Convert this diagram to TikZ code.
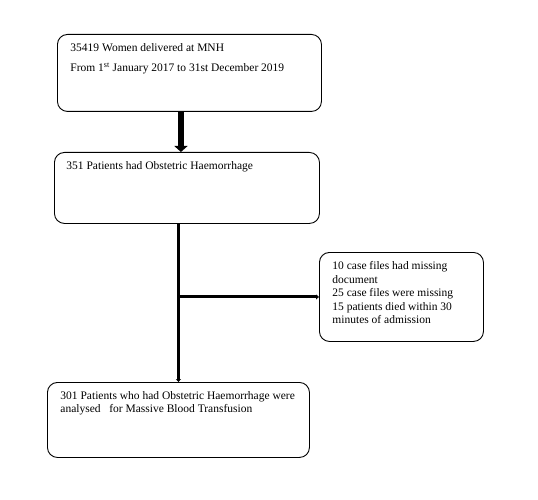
\documentclass[tikz,border=0pt]{standalone}
\usepackage{fontspec}
\setmainfont{Liberation Serif}
\usetikzlibrary{arrows.meta}
\newcommand{\boxtext}[3]{\parbox[c][#2][t]{#1}{\raggedright #3}}

\begin{document}
\begin{tikzpicture}[x=1pt,y=-1pt,
  flowbox/.style={draw=black,line width=0.9pt,rounded corners=10pt,anchor=north west,
    inner xsep=13pt,inner ysep=9pt,font=\fontsize{11.5}{13.5}\selectfont},
  bigarrow/.style={-{Triangle[length=6pt,width=13pt]},line width=6pt},
  flowline/.style={line width=3pt}]
\useasboundingbox (0,0) rectangle (538,500);
% \draw[help lines,step=50] (0,0) grid (538,500);
\node (total) [flowbox] at (57,34)
  {\boxtext{238pt}{59pt}{35419 Women delivered at MNH\\[6.5pt]
   From 1\textsuperscript{st} January 2017 to 31st December 2019}};
\node (oh) [flowbox,inner xsep=12pt] at (54,152)
  {\boxtext{241pt}{53pt}{351 Patients had Obstetric Haemorrhage}};
\node (excl) [flowbox] at (319,252)
  {\boxtext{138pt}{71pt}{10 case files had missing\\ document\\
   25 case files were missing\\
   15 patients died within 30\\ minutes of admission}};
\node (mbt) [flowbox] at (47,382)
  {\boxtext{236pt}{57pt}{301 Patients who had Obstetric Haemorrhage were\\
   analysed\ \ \ for Massive Blood Transfusion}};
%
\draw[bigarrow] ([xshift=-8.5pt]total.south) -- ([xshift=-8.5pt]total.south |- oh.north);
\coordinate (split) at (mbt.north |- excl.west);
\draw[flowline,-{Triangle[length=3pt,width=5pt]}] (oh.south -| mbt.north) -- (mbt.north);
\draw[flowline,-{Triangle[length=3pt,width=5pt]}] (split) -- (excl.west);
\end{tikzpicture}
\end{document}
